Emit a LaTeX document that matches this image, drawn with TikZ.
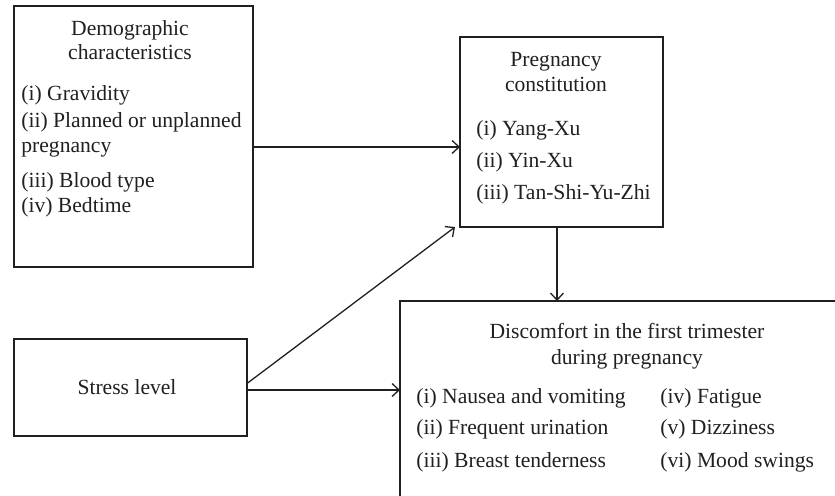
\documentclass[tikz,border=0pt]{standalone}
\usepackage{fontspec}
\setmainfont{Liberation Serif}
\usetikzlibrary{arrows.meta,calc}
\definecolor{ink}{HTML}{231F20}
\begin{document}
\begin{tikzpicture}[x=0.5pt,y=-0.5pt,
  box/.style={draw=ink,line width=0.65pt,inner sep=0pt,outer sep=0pt,anchor=north west},
  txt/.style={text=ink,inner sep=0pt,font=\fontsize{10.8}{13}\selectfont},
  lft/.style={txt,anchor=base west},
  ctr/.style={txt,anchor=base},
  arr/.style={draw=ink,line width=0.65pt,-{Straight Barb[length=3.5pt,width=6.5pt]}}]
\clip (0,0) rectangle (835,496);
\fill[white] (0,0) rectangle (835,496);
% boxes
\node[box,minimum width=119.5pt,minimum height=130.5pt] (demo) at (14,6) {};
\node[box,minimum width=101.5pt,minimum height=95pt] (preg) at (460,37) {};
\node[box,minimum width=116.5pt,minimum height=48.5pt] (stress) at (14,339) {};
\node[box,minimum width=230pt,minimum height=110pt] (disc) at (400,301) {};
% demographic text
\node[ctr] (demoT1) at (130,36) {Demographic};
\node[ctr] (demoT2) at (130,60) {characteristics};
\node[lft] (demo1) at (21,101) {(i) Gravidity};
\node[lft] (demo2) at (21,128) {(ii) Planned or unplanned};
\node[lft] (demo2b) at (21,153) {pregnancy};
\node[lft] (demo3) at (21,188) {(iii) Blood type};
\node[lft] (demo4) at (21,213) {(iv) Bedtime};
% pregnancy text
\node[ctr] (pregT1) at (556,67) {Pregnancy};
\node[ctr] (pregT2) at (556,92) {constitution};
\node[lft] (preg1) at (476,136) {(i) Yang-Xu};
\node[lft] (preg2) at (476,168) {(ii) Yin-Xu};
\node[lft] (preg3) at (476,200) {(iii) Tan-Shi-Yu-Zhi};
% stress text
\node[ctr] (stressT) at (127,395) {Stress level};
% discomfort text
\node[ctr] (discT1) at (627,339) {Discomfort in the first trimester};
\node[ctr] (discT2) at (627,365) {during pregnancy};
\node[lft] (disc1) at (416,404) {(i) Nausea and vomiting};
\node[lft] (disc2) at (416,435) {(ii) Frequent urination};
\node[lft] (disc3) at (416,467) {(iii) Breast tenderness};
\node[lft] (disc4) at (660,404) {(iv) Fatigue};
\node[lft] (disc5) at (660,435) {(v) Dizziness};
\node[lft] (disc6) at (660,467) {(vi) Mood swings};
% connectors
\draw[arr] ($(demo.east)+(0,10.5)$) coordinate (a1) -- (a1 -| preg.west);
\draw[arr] ($(stress.east)+(0,-4)$) -- ($(preg.south west)+(-5,0)$);
\draw[arr] ($(stress.east)+(0,2.5)$) coordinate (a2) -- (a2 -| disc.west);
\draw[arr] ($(preg.south)+(-4.5,0)$) coordinate (a3) -- (a3 |- disc.north);
\end{tikzpicture}
\end{document}
